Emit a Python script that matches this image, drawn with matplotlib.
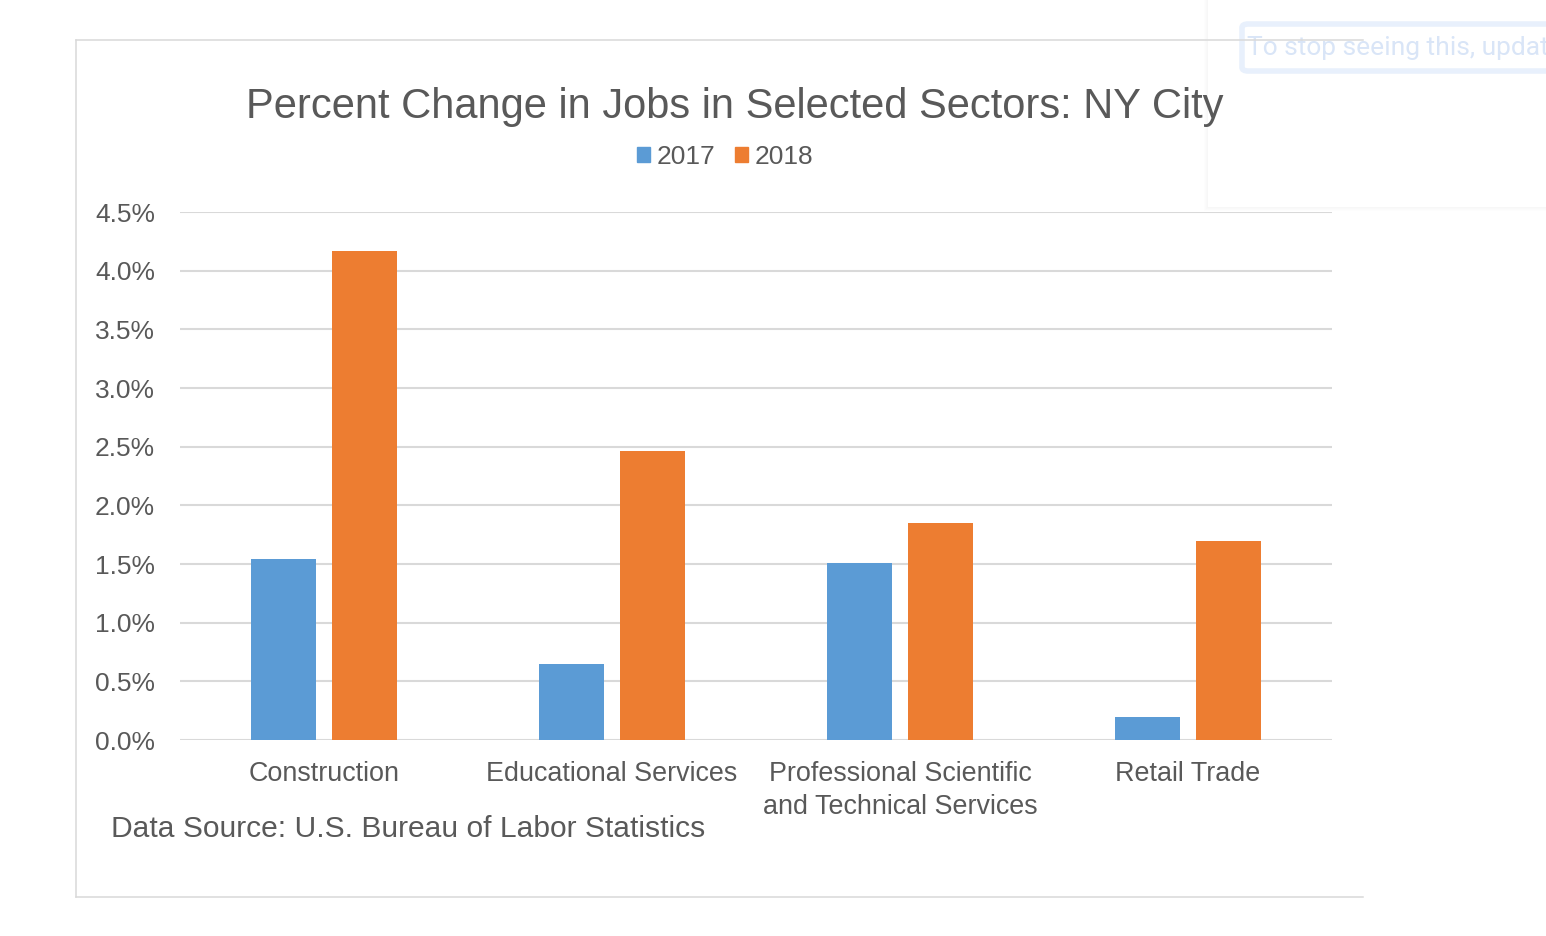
import matplotlib
matplotlib.use("Agg")
import numpy as np
from matplotlib import pyplot as plt
from matplotlib.patches import Patch, Rectangle, FancyBboxPatch
from matplotlib.lines import Line2D
from matplotlib.ticker import FuncFormatter, MultipleLocator

# data (percent change)
sectors = ["Construction", "Educational Services",
           "Professional Scientific\nand Technical Services", "Retail Trade"]
jobs_2017 = [1.54, 0.65, 1.51, 0.20]
jobs_2018 = [4.17, 2.46, 1.85, 1.70]
years = ["2017", "2018"]

TEXT = "#595959"
GRID = "#D9D9D9"
BLUE = "#5B9BD5"
ORANGE = "#ED7D31"

plt.rcParams["font.family"] = ["Liberation Sans", "DejaVu Sans"]

W, H = 1546, 936
fig = plt.figure(figsize=(W / 100, H / 100), dpi=100)
fig.patch.set_facecolor("white")

def fx(px):
  return px / W

def fy(py):
  return 1 - py / H

# browser popup panel in the top right corner (drawn under the chart text)
for k in range(4):
  fig.patches.append(Rectangle((fx(1208 - 1 - k), fy(207 + 1 + k)), 1, 1, transform=fig.transFigure,
                               facecolor="black", alpha=0.008, edgecolor="none", zorder=0))
fig.patches.append(Rectangle((fx(1208), fy(207)), 1, 1, transform=fig.transFigure,
                             facecolor="white", edgecolor="none", zorder=0.5))
fig.patches.append(FancyBboxPatch((fx(1242), fy(71)), fx(400), fy(24) - fy(71),
                                  boxstyle="round,pad=0,rounding_size=0.004",
                                  transform=fig.transFigure, facecolor="white",
                                  edgecolor="#E8F0FC", linewidth=4, zorder=0.6))
fig.text(fx(1247), fy(48), "To stop seeing this, updat", color="#D9E5F7",
         fontsize=19, family=["Roboto", "DejaVu Sans"], ha="left", va="center", zorder=0.7)

# chart border (top, left, bottom)
for xs, ys in [([76, 1363], [40, 40]), ([76, 76], [40, 897]), ([76, 1363], [897, 897])]:
  fig.add_artist(Line2D([fx(v) for v in xs], [fy(v) for v in ys], color=GRID, lw=1.1, zorder=1))

ax = fig.add_axes([fx(180), fy(740), fx(1332) - fx(180), fy(212) - fy(740)])
ax.set_facecolor("none")
ax.set_zorder(2)

x = np.arange(len(sectors))
bw = 0.224
ax.bar(x - 0.1415, jobs_2017, bw, color=BLUE, label=years[0], zorder=3)
ax.bar(x + 0.1415, jobs_2018, bw, color=ORANGE, label=years[1], zorder=3)

ax.set_xlim(-0.5, len(sectors) - 0.5)
ax.set_ylim(0, 4.5)
ax.yaxis.set_major_locator(MultipleLocator(0.5))
ax.yaxis.set_major_formatter(FuncFormatter(lambda v, p: f"{v:.1f}%"))
ax.grid(axis="y", color=GRID, lw=1.5, zorder=0)
ax.set_axisbelow(True)
for s in ax.spines.values():
  s.set_visible(False)
ax.set_xticks(x)
ax.set_xticklabels(sectors, linespacing=1.37)
ax.tick_params(axis="y", length=0, pad=18, labelsize=19, labelcolor=TEXT)
ax.tick_params(axis="x", length=0, pad=15, labelsize=19.4, labelcolor=TEXT)

fig.text(fx(735), fy(107), "Percent Change in Jobs in Selected Sectors: NY City",
         color=TEXT, fontsize=30, ha="center", va="center", zorder=3)

handles = [Patch(color=BLUE, label=years[0]), Patch(color=ORANGE, label=years[1])]
fig.legend(handles=handles, loc="center", bbox_to_anchor=(fx(725), fy(157)), ncol=2,
           frameon=False, fontsize=19, labelcolor=TEXT, handlelength=0.5, handleheight=0.5,
           handletextpad=0.25, columnspacing=0.75)

fig.text(fx(111), fy(829), "Data Source: U.S. Bureau of Labor Statistics",
         color=TEXT, fontsize=21.6, ha="left", va="center", zorder=3)

fig.savefig("out.png", dpi=100, facecolor="white")
